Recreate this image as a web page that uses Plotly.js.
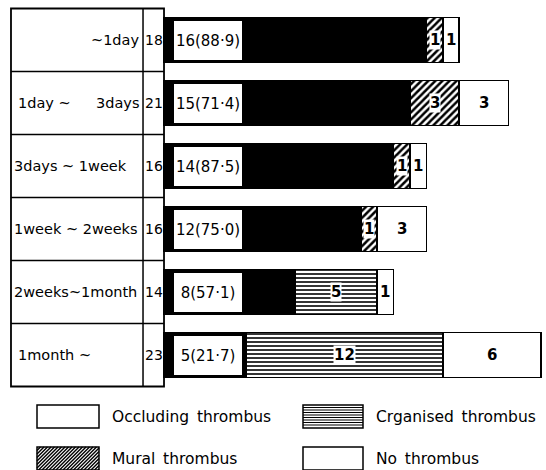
<!DOCTYPE html>
<html><head><meta charset="utf-8">
<script src="https://cdn.plot.ly/plotly-3.0.1.min.js"></script>
<style>html,body{margin:0;padding:0;background:#fff}#chart{width:546px;height:470px}</style>
</head><body><div id="chart"></div>
<script>
// ---- data ----
const periods = ["~1day", "1day ~ 3days", "3days ~ 1week", "1week ~ 2weeks", "2weeks~1month", "1month ~"];
const totals = [18, 21, 16, 16, 14, 23];
const occluding = [16, 15, 14, 12, 8, 5];
const occludingPct = ["88·9", "71·4", "87·5", "75·0", "57·1", "21·7"];
const mural = [1, 3, 1, 1, 0, 0];
const organised = [0, 0, 0, 0, 5, 12];
const noThrombus = [1, 3, 1, 3, 1, 6];
const seriesNames = ["Occluding thrombus", "Mural thrombus", "Organised thrombus", "No thrombus"];
const legendLabels = ["Occluding thrombus", "Crganised thrombus", "Mural thrombus", "No thrombus"];

// ---- layout helpers ----
const W = 546, H = 470;
const FONT = "DejaVu Sans";
const rows = periods.map((_, i) => i);
const xr = [-10, 23.29];
const yr = [6.825, -0.635];
const px = p => p / W;            // pixel -> paper x
const py = p => 1 - p / H;        // pixel -> paper y

const line = {color: "black", width: 1.5};
const traces = [
  {name: seriesNames[0], x: occluding, y: rows, type: "bar", orientation: "h",
   marker: {color: "black", line: line}},
  {name: seriesNames[1], x: mural, y: rows, type: "bar", orientation: "h",
   marker: {color: "white", line: line, pattern: {shape: "/", fgcolor: "black", bgcolor: "white", size: 5, solidity: 0.5}}},
  {name: seriesNames[2], x: organised, y: rows, type: "bar", orientation: "h",
   marker: {color: "white", line: line, pattern: {shape: "-", fgcolor: "black", bgcolor: "white", size: 4, solidity: 0.4}}},
  {name: seriesNames[3], x: noThrombus, y: rows, type: "bar", orientation: "h",
   marker: {color: "white", line: line}}
];
traces.forEach(t => { t.width = 0.71; t.hoverinfo = "skip"; t.showlegend = false; });

const shapes = [];
const annotations = [];
const tf = (s, extra) => Object.assign({family: FONT, size: s, color: "black"}, extra || {});

// left table
const tx0 = -9.33, tdiv = -1.28, tx1 = 0;
shapes.push({type: "rect", xref: "x", yref: "y", x0: tx0, x1: tx1, y0: -0.5, y1: periods.length - 0.5, line: {color: "black", width: 1.8}});
shapes.push({type: "line", xref: "x", yref: "y", x0: tdiv, x1: tdiv, y0: -0.5, y1: periods.length - 0.5, line: {color: "black", width: 1.5}});
for (let i = 1; i < periods.length; i++) {
  shapes.push({type: "line", xref: "x", yref: "y", x0: tx0, x1: tx1, y0: i - 0.5, y1: i - 0.5, line: {color: "black", width: 1.5}});
}

// period labels
periods.forEach((p, i) => {
  if (i === 0) {
    annotations.push({x: tdiv - 0.12, y: i, xref: "x", yref: "y", xanchor: "right", text: p, showarrow: false, font: tf(14.5)});
  } else if (i === 1) {
    const parts = p.split(" ~ ");
    annotations.push({x: tx0 + 0.3, y: i, xref: "x", yref: "y", xanchor: "left", text: parts[0] + " ~", showarrow: false, font: tf(14.5)});
    annotations.push({x: tdiv - 0.12, y: i, xref: "x", yref: "y", xanchor: "right", text: parts[1], showarrow: false, font: tf(14.5)});
  } else {
    annotations.push({x: tx0 + 0.05 + (i === 5 ? 0.25 : 0), y: i, xref: "x", yref: "y", xanchor: "left", text: p, showarrow: false, font: tf(14.5)});
  }
  annotations.push({x: (tdiv + tx1) / 2, y: i, xref: "x", yref: "y", text: String(totals[i]), showarrow: false, font: tf(14)});
});

// in-bar labels
rows.forEach(i => {
  annotations.push({x: 0.55, y: i, xref: "x", yref: "y", xanchor: "left", text: occluding[i] + "(" + occludingPct[i] + ")",
    showarrow: false, font: tf(15), bgcolor: "white", bordercolor: "black", borderwidth: 1, width: 66, height: 37, align: "center"});
  let c = occluding[i];
  [mural, organised, noThrombus].forEach(arr => {
    const v = arr[i];
    if (v > 0) {
      const isNone = arr === noThrombus;
      annotations.push({x: c + v / 2, y: i, xref: "x", yref: "y", text: "<b>" + v + "</b>", showarrow: false,
        font: tf(15), bgcolor: isNone ? "rgba(0,0,0,0)" : "white", borderpad: 0});
    }
    c += v;
  });
});

// manual legend
const legendBoxes = [
  {x0: 37, x1: 99, y0: 405, y1: 428, label: legendLabels[0], trace: 3},
  {x0: 303, x1: 363, y0: 405, y1: 428, label: legendLabels[1], trace: 2},
  {x0: 37, x1: 99, y0: 447, y1: 470, label: legendLabels[2], trace: 1},
  {x0: 303, x1: 363, y0: 447, y1: 470, label: legendLabels[3], trace: 3}
];
legendBoxes.forEach(b => {
  const m = traces[b.trace].marker;
  shapes.push({type: "rect", xref: "paper", yref: "paper", x0: px(b.x0), x1: px(b.x1), y0: py(b.y1), y1: py(b.y0),
    line: {color: "black", width: 1.5}, fillcolor: "white"});
  if (m.pattern) {
    if (m.pattern.shape === "-") {
      for (let yy = b.y0 + 2.5; yy < b.y1 - 1; yy += 2.5) {
        shapes.push({type: "line", xref: "paper", yref: "paper", x0: px(b.x0), x1: px(b.x1), y0: py(yy), y1: py(yy), line: {color: "black", width: 1}});
      }
    } else {
      const h = b.y1 - b.y0;
      for (let xx = b.x0 - h; xx < b.x1; xx += 3.5) {
        let xa = xx, ya = b.y1, xb = xx + h, yb = b.y0;
        if (xa < b.x0) { ya = b.y1 - (b.x0 - xa); xa = b.x0; }
        if (xb > b.x1) { yb = b.y0 + (xb - b.x1); xb = b.x1; }
        shapes.push({type: "line", xref: "paper", yref: "paper", x0: px(xa), x1: px(xb), y0: py(ya), y1: py(yb), line: {color: "black", width: 1.4}});
      }
    }
  }
  annotations.push({xref: "paper", yref: "paper", x: px(b.x1 + 11), y: py((b.y0 + b.y1) / 2), xanchor: "left", yanchor: "middle",
    text: b.label.replace(" ", "\u2002"), showarrow: false, font: tf(15.5)});
});

const layout = {
  width: W, height: H,
  margin: {l: 0, r: 0, t: 0, b: 0},
  paper_bgcolor: "white", plot_bgcolor: "white",
  barmode: "stack", bargap: 0,
  showlegend: false,
  xaxis: {range: xr, visible: false, fixedrange: true},
  yaxis: {range: yr, visible: false, fixedrange: true},
  shapes: shapes,
  annotations: annotations,
  font: {family: FONT}
};
Plotly.newPlot("chart", traces, layout, {displayModeBar: false, staticPlot: true});
</script></body></html>
